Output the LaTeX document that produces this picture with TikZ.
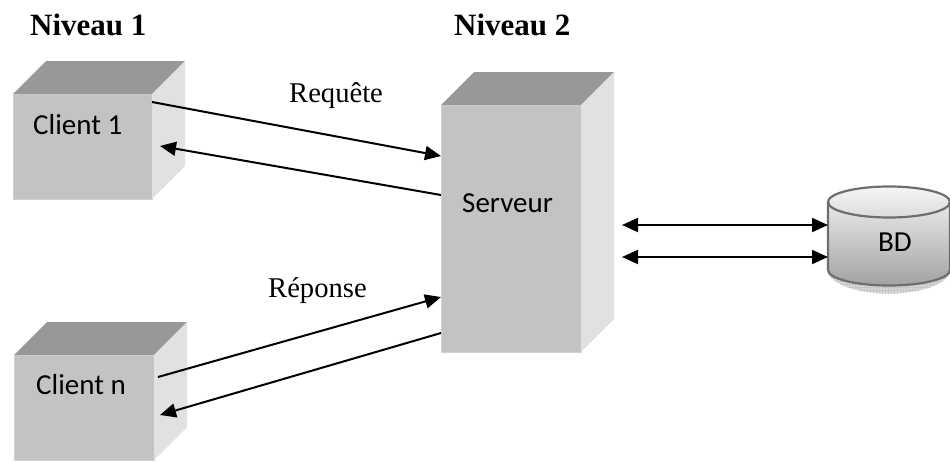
\documentclass[tikz,border=0pt]{standalone}
\usepackage{fontspec}
\setmainfont{Liberation Serif}
\newfontfamily\boxfont{Carlito}
\usetikzlibrary{arrows.meta,calc,patterns}

\definecolor{facefront}{HTML}{C3C3C3}
\definecolor{faceedge}{HTML}{D2D2D2}
\definecolor{facetop}{HTML}{989898}
\definecolor{faceside}{HTML}{E1E1E1}
\definecolor{cylline}{HTML}{6E6E6E}
\definecolor{cyltop}{HTML}{F6F6F6}
\definecolor{cylbot}{HTML}{A2A2A2}
\definecolor{bandfill}{HTML}{D8D8D8}

% A grey box seen in perspective: front face node #1 centred at #2, size #3 x #4
\newcommand\drawcube[4]{%
  \node[frontface, minimum width=#3pt, minimum height=#4pt] (#1) at (#2) {};
  \fill[facetop] (#1.north west) -- ++(33,-33) -- ($(#1.north east)+(33,-33)$)
    -- (#1.north east) -- cycle;
  \fill[faceside] (#1.north east) -- ++(33,-33) -- ($(#1.south east)+(33,-33)$)
    -- (#1.south east) -- cycle;
}

\begin{document}
\begin{tikzpicture}[x=1pt,y=-1pt,
  frontface/.style={fill=facefront, draw=faceedge, line width=1pt,
    inner sep=0pt, outer sep=0pt},
  title/.style={anchor=base west, inner sep=0pt,
    font=\bfseries\fontsize{31}{31}\selectfont},
  msg/.style={anchor=base west, inner sep=0pt, font=\fontsize{28.6}{28.6}\selectfont},
  boxlabel/.style={anchor=base west, inner sep=0pt,
    font=\boxfont\fontsize{29}{29}\selectfont},
  conn/.style={line width=2pt, -{Triangle[length=16pt,width=14pt]}},
  biconn/.style={line width=2pt,
    {Triangle[length=16pt,width=14pt]}-{Triangle[length=16pt,width=14pt]}},
  cylr/.style={x radius=61pt, y radius=15.5pt}]

\useasboundingbox (0,0) rectangle (950,461);

% titles
\node[title] (n1) at (30,35) {Niveau 1};
\node[title] (n2) at (454,35) {Niveau 2};

% boxes
\drawcube{c1}{82.5,146.5}{139}{105}
\drawcube{cn}{84,407.5}{140}{105}
\drawcube{sv}{511,228.5}{140}{247}

\node[boxlabel] (c1t) at (33,134) {Client 1};
\node[boxlabel] (cnt) at (36,394) {Client n};
\node[boxlabel] (svt) at (462,212) {Serveur};

% database cylinder
\node[inner sep=0pt, outer sep=0pt, minimum width=122pt, minimum height=68pt]
  (bd) at (889,236) {};
\fill[bandfill] (bd.south west) arc[start angle=180, end angle=360, cylr]
  arc[start angle=0, end angle=-180, x radius=61pt, y radius=23.5pt] -- cycle;
\fill[pattern=grid, pattern color=gray!45] (bd.south west)
  arc[start angle=180, end angle=360, cylr]
  arc[start angle=0, end angle=-180, x radius=61pt, y radius=23.5pt] -- cycle;
\shade[top color=cyltop, bottom color=cylbot] (bd.north west) -- (bd.south west)
  arc[start angle=180, end angle=360, cylr] -- (bd.north east)
  arc[start angle=0, end angle=180, cylr] -- cycle;
\draw[cylline, line width=2.2pt] (bd.north west) -- (bd.south west)
  arc[start angle=180, end angle=360, cylr] -- (bd.north east);
\draw[cylline, line width=2.2pt] (bd.north) ellipse [cylr];
\node[boxlabel] (bdt) at (878,251) {BD};

% messages between clients and server
\node[msg] (rq) at (289,102) {Requête};
\node[msg] (rp) at (268,297) {Réponse};

\draw[conn] ([yshift=-8pt]c1.north east) -- ([yshift=-51pt]sv.north west);
\draw[conn] ([yshift=-90pt]sv.north west) -- ([xshift=8pt,yshift=-52pt]c1.north east);
\draw[conn] ([xshift=4pt,yshift=-22pt]cn.north east) -- ([yshift=-192pt]sv.north west);
\draw[conn] ([yshift=-228pt]sv.north west) -- ([xshift=6pt,yshift=-60pt]cn.north east);

% server <-> database
\draw[biconn] ([xshift=41pt,yshift=-120pt]sv.north east) -- ([yshift=11pt]bd.west);
\draw[biconn] ([xshift=41pt,yshift=-152pt]sv.north east) -- ([yshift=-21pt]bd.west);

\end{tikzpicture}
\end{document}
